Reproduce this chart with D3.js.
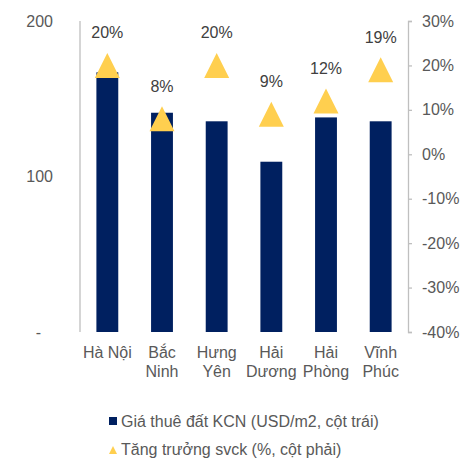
<!DOCTYPE html>
<meta charset="utf-8">
<title>Giá thuê đất KCN</title>
<style>
body {
  margin: 0;
  background: #fff;
  font-family: "Liberation Sans", Arial, sans-serif;
}
.tick-label {
  fill: #595959;
  font-size: 16px;
}
.val-label {
  fill: #404040;
  font-size: 16px;
  text-anchor: middle;
}
.legend-text {
  fill: #595959;
  font-size: 16px;
}
</style>
<body>
<svg width="476" height="462"></svg>

<script src="https://cdn.jsdelivr.net/npm/d3@7"></script>
<script>
// provinces, two-line labels where the original wraps
var provinces = ["Hà Nội", "Bắc Ninh", "Hưng Yên", "Hải Dương", "Hải Phòng", "Vĩnh Phúc"];
var labelLines = [["Hà Nội"], ["Bắc", "Ninh"], ["Hưng", "Yên"], ["Hải", "Dương"], ["Hải", "Phòng"], ["Vĩnh", "Phúc"]];

// land rent, USD/m2 (left axis)
var rent = [167, 141, 135.5, 109.5, 138, 135.5];
// yoy growth, % (right axis)
var growth = [20, 8, 20, 9, 12, 19];

var leftTicks = [0, 100, 200];
var rightTicks = [30, 20, 10, 0, -10, -20, -30, -40];

var svg = d3.select("svg");

var x0 = 80, x1 = 408, yTop = 21, yBot = 332;

var x = d3.scaleBand()
    .domain(provinces)
    .range([x0, x1])
    .paddingInner(0.6)
    .paddingOuter(0.3);

var yL = d3.scaleLinear().domain([0, 200]).range([yBot, yTop]);
var yR = d3.scaleLinear().domain([-40, 30]).range([yBot, yTop]);

// triangle marker (Excel style: as wide as it is tall)
function triangle(s) {
  var h = s / 2;
  return "M0," + (-h) + "L" + h + "," + h + "L" + (-h) + "," + h + "Z";
}

// left axis: line only, labels right-aligned
svg.append("line")
    .attr("x1", x0).attr("x2", x0)
    .attr("y1", yTop).attr("y2", yBot)
    .attr("stroke", "#bfbfbf").attr("stroke-width", 1.3);

svg.append("g").selectAll("text")
  .data(leftTicks)
  .enter().append("text")
    .attr("class", "tick-label")
    .attr("x", 53)
    .attr("y", function(d) { return yL(d); })
    .attr("dy", "0.35em")
    .attr("text-anchor", "end")
    .text(function(d) { return d === 0 ? "-" : d; })
    .attr("dx", function(d) { return d === 0 ? -12 : 0; });

// right axis with outward ticks
var axisR = d3.axisRight(yR)
    .tickValues(rightTicks)
    .tickSize(4)
    .tickPadding(10)
    .tickFormat(function(d) { return d + "%"; });

var gR = svg.append("g")
    .attr("transform", "translate(" + x1 + ",0)")
    .call(axisR);
gR.select(".domain").attr("stroke", "#bfbfbf").attr("stroke-width", 1.3);
gR.selectAll(".tick line").attr("stroke", "#bfbfbf").attr("stroke-width", 1.3);
gR.selectAll(".tick text")
    .attr("class", "tick-label")
    .attr("fill", "#595959")
    .style("font-family", "'Liberation Sans', Arial, sans-serif")
    .style("font-size", "16px");

// bars
svg.append("g").selectAll("rect")
  .data(rent)
  .enter().append("rect")
    .attr("x", function(d, i) { return x(provinces[i]); })
    .attr("width", x.bandwidth())
    .attr("y", function(d) { return yL(d); })
    .attr("height", function(d) { return yBot - yL(d); })
    .attr("fill", "#002060");

// triangle markers for growth
svg.append("g").selectAll("path")
  .data(growth)
  .enter().append("path")
    .attr("d", triangle(25))
    .attr("transform", function(d, i) {
      return "translate(" + (x(provinces[i]) + x.bandwidth() / 2) + "," + yR(d) + ")";
    })
    .attr("fill", "#ffcf4f");

svg.append("g").selectAll("text")
  .data(growth)
  .enter().append("text")
    .attr("class", "val-label")
    .attr("x", function(d, i) { return x(provinces[i]) + x.bandwidth() / 2; })
    .attr("y", function(d) { return yR(d) - 27; })
    .text(function(d) { return d + "%"; });

// category labels
var cat = svg.append("g").selectAll("text")
  .data(labelLines)
  .enter().append("text")
    .attr("class", "tick-label")
    .attr("text-anchor", "middle")
    .attr("x", function(d, i) { return x(provinces[i]) + x.bandwidth() / 2; })
    .attr("y", 358);

cat.selectAll("tspan")
  .data(function(d) { return d; })
  .enter().append("tspan")
    .attr("x", function() { return d3.select(this.parentNode).attr("x"); })
    .attr("dy", function(d, i) { return i === 0 ? 0 : 19; })
    .text(function(d) { return d; });

// legend
var legend = svg.append("g");
legend.append("rect")
    .attr("x", 109).attr("y", 417)
    .attr("width", 8).attr("height", 8)
    .attr("fill", "#002060");
legend.append("text")
    .attr("class", "legend-text")
    .attr("x", 121).attr("y", 427)
    .text("Giá thuê đất KCN (USD/m2, cột trái)");

legend.append("path")
    .attr("d", triangle(8))
    .attr("transform", "translate(113,450)")
    .attr("fill", "#ffcf4f");
legend.append("text")
    .attr("class", "legend-text")
    .attr("x", 121).attr("y", 455)
    .text("Tăng trưởng svck (%, cột phải)");
</script>
</body>
